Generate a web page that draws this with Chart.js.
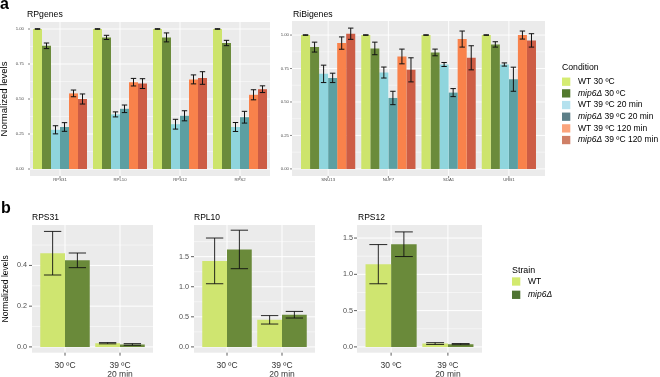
<!DOCTYPE html>
<html>
<head>
<meta charset="utf-8">
<script src="https://cdn.jsdelivr.net/npm/chart.js@4.4.1/dist/chart.umd.min.js"></script>
<style>
  html, body { margin: 0; padding: 0; background: #fff; }
  #wrap { position: relative; width: 660px; height: 377px; overflow: hidden; }
  #wrap canvas { position: absolute; left: 0; top: 0; }
</style>
</head>
<body>
<div id="wrap">
  <canvas id="chartRP" width="660" height="377"></canvas>
  <canvas id="chartRiBi" width="660" height="377"></canvas>
  <canvas id="chartRPS31" width="660" height="377"></canvas>
  <canvas id="chartRPL10" width="660" height="377"></canvas>
  <canvas id="chartRPS12" width="660" height="377"></canvas>
</div>
<script>
// ---- data, panel a ----
const rpGenes = ['RPS31', 'RPL10', 'RPS12', 'RPS2'];
const ribiGenes = ['SNU13', 'NUP7', 'SDA1', 'URB1'];
const conditions = ['WT 30 ºC', 'mip6Δ 30 ºC', 'WT 39 ºC 20 min', 'mip6Δ 39 ºC 20 min', 'WT 39 ºC 120 min', 'mip6Δ 39 ºC 120 min'];

// one row per condition, one value per gene
const rpMeans = [
  [1.00, 1.00, 1.00, 1.00],
  [0.88, 0.94, 0.94, 0.90],
  [0.28, 0.39, 0.32, 0.30],
  [0.30, 0.43, 0.38, 0.37],
  [0.54, 0.62, 0.64, 0.53],
  [0.50, 0.61, 0.65, 0.57]
];
const rpErrors = [
  [0.002, 0.002, 0.002, 0.002],
  [0.020, 0.015, 0.032, 0.019],
  [0.029, 0.018, 0.035, 0.032],
  [0.031, 0.027, 0.036, 0.042],
  [0.024, 0.027, 0.032, 0.036],
  [0.036, 0.035, 0.045, 0.024]
];
const ribiMeans = [
  [1.00, 1.00, 1.00, 1.00],
  [0.91, 0.90, 0.87, 0.93],
  [0.71, 0.72, 0.78, 0.78],
  [0.68, 0.53, 0.57, 0.67],
  [0.94, 0.84, 0.97, 1.00],
  [1.01, 0.74, 0.83, 0.96]
];
const ribiErrors = [
  [0.002, 0.002, 0.002, 0.002],
  [0.037, 0.047, 0.025, 0.020],
  [0.065, 0.041, 0.015, 0.012],
  [0.035, 0.050, 0.030, 0.090],
  [0.046, 0.055, 0.060, 0.030],
  [0.042, 0.090, 0.090, 0.050]
];
const aTicks = [0, 0.25, 0.5, 0.75, 1];
const aTickLabels = ['0.00', '0.25', '0.50', '0.75', '1.00'];

// ---- data, panel b ----
const strains = ['WT', 'mip6Δ'];
const timepoints = ['30 ºC', ['39 ºC', '20 min']];
const rps31Means = [[0.46, 0.018], [0.425, 0.012]];
const rps31Errors = [[0.107, 0.003], [0.036, 0.004]];
const rpl10Means = [[1.43, 0.45], [1.62, 0.535]];
const rpl10Errors = [[0.38, 0.07], [0.32, 0.055]];
const rps12Means = [[1.14, 0.046], [1.415, 0.038]];
const rps12Errors = [[0.27, 0.012], [0.17, 0.008]];
const rps31Ticks = [0, 0.2, 0.4];
const rps31TickLabels = ['0.0', '0.2', '0.4'];
const bigTicks = [0, 0.5, 1, 1.5];
const bigTickLabels = ['0.0', '0.5', '1.0', '1.5'];

// colours
const conditionColors = ['#cde46c', '#6b8b3b', '#8fd5dd', '#5c9fa2', '#f9824b', '#cd5d45'];
const conditionKeyColors = ['#d5ec72', '#537a2e', '#b4e1ee', '#5d7f88', '#fba47c', '#cf7f66'];
const strainColors = ['#cfe570', '#6a8a3a'];
const strainKeyColors = ['#d3ea6e', '#4f7432'];

const FAMILY = "'Liberation Sans', Arial, Helvetica, sans-serif";
const font = (size, style = 'normal', weight = 'normal') => `${style} ${weight} ${size}px ${FAMILY}`;

Chart.defaults.font.family = FAMILY;

const ggPanel = {
  id: 'ggPanel',
  beforeDatasetsDraw(chart, args, o) {
    const { ctx, chartArea: a, scales: { x, y } } = chart;
    const L = a.left - o.ext, R = a.right + o.ext;
    ctx.save();
    ctx.fillStyle = '#ebebeb';
    ctx.fillRect(L, a.top, R - L, a.bottom - a.top);
    ctx.strokeStyle = '#ffffff';
    const hline = v => {
      const py = y.getPixelForValue(v);
      ctx.beginPath(); ctx.moveTo(L, py); ctx.lineTo(R, py); ctx.stroke();
    };
    const t = o.yTicks, step = t[1] - t[0];
    ctx.lineWidth = o.minorW;
    for (let v = t[0] - step / 2; v <= y.max; v += step) {
      if (v >= y.min) hline(v);
    }
    ctx.lineWidth = o.majorW;
    t.forEach(hline);
    x.ticks.forEach((_, i) => {
      const px = x.getPixelForTick(i);
      ctx.beginPath(); ctx.moveTo(px, a.top); ctx.lineTo(px, a.bottom); ctx.stroke();
    });
    ctx.restore();
  },
  afterDatasetsDraw(chart, args, o) {
    const { ctx, scales: { y } } = chart;
    ctx.save();
    ctx.strokeStyle = '#111';
    ctx.lineWidth = o.errW;
    chart.data.datasets.forEach((ds, di) => {
      chart.getDatasetMeta(di).data.forEach((bar, i) => {
        const v = ds.data[i], e = ds.errors[i];
        const hw = bar.width * o.whisker / 2;
        const top = y.getPixelForValue(v + e), bot = y.getPixelForValue(v - e);
        ctx.beginPath();
        ctx.moveTo(bar.x, top); ctx.lineTo(bar.x, bot);
        ctx.moveTo(bar.x - hw, top); ctx.lineTo(bar.x + hw, top);
        ctx.moveTo(bar.x - hw, bot); ctx.lineTo(bar.x + hw, bot);
        ctx.stroke();
      });
    });
    ctx.restore();
  },
  afterDraw(chart, args, o) {
    const { ctx, chartArea: a, scales: { x, y } } = chart;
    const L = a.left - o.ext;
    ctx.save();
    // tick marks
    ctx.strokeStyle = '#333';
    ctx.lineWidth = o.tickW;
    o.yTicks.forEach(v => {
      const py = y.getPixelForValue(v);
      ctx.beginPath(); ctx.moveTo(L - o.tickLen, py); ctx.lineTo(L, py); ctx.stroke();
    });
    x.ticks.forEach((_, i) => {
      const px = x.getPixelForTick(i);
      ctx.beginPath(); ctx.moveTo(px, a.bottom); ctx.lineTo(px, a.bottom + o.tickLen); ctx.stroke();
    });
    // panel title
    ctx.fillStyle = '#000';
    ctx.textBaseline = 'alphabetic';
    ctx.font = font(o.titleSize);
    ctx.fillText(o.title, o.titleX, o.titleY);
    // figure letter
    if (o.letter) {
      ctx.font = font(o.letter.size, 'normal', 'bold');
      ctx.fillText(o.letter.text, o.letter.x, o.letter.y);
    }
    // legend
    const lg = o.legend;
    if (lg) {
      ctx.font = font(lg.titleSize);
      ctx.fillText(lg.title, lg.x, lg.titleY);
      ctx.textBaseline = 'middle';
      chart.data.datasets.forEach((ds, i) => {
        const cy = lg.y0 + i * lg.dy;
        ctx.fillStyle = lg.colors[i];
        ctx.fillRect(lg.x, cy - lg.key / 2, lg.key, lg.key);
        ctx.fillStyle = '#000';
        let tx = lg.textX;
        const m = ds.label.match(/^(mip6Δ)(.*)$/);
        if (m) {
          ctx.font = font(lg.size, 'italic');
          ctx.fillText(m[1], tx, cy);
          tx += ctx.measureText(m[1]).width;
          ctx.font = font(lg.size);
          ctx.fillText(m[2], tx, cy);
        } else {
          ctx.font = font(lg.size);
          ctx.fillText(ds.label, tx, cy);
        }
      });
    }
    ctx.restore();
  }
};
Chart.register(ggPanel);

function ggBar(id, p) {
  return new Chart(document.getElementById(id), {
    type: 'bar',
    data: {
      labels: p.labels,
      datasets: p.means.map((d, i) => ({
        label: p.names[i],
        data: d,
        errors: p.errors[i],
        backgroundColor: p.colors[i],
        borderWidth: 0,
        categoryPercentage: 0.9,
        barPercentage: 1
      }))
    },
    options: {
      responsive: false,
      animation: false,
      events: [],
      layout: {
        padding: { left: 0, top: p.area.top, right: 660 - p.area.right, bottom: 377 - p.area.bottom - p.xh }
      },
      scales: {
        x: {
          grid: { display: false, drawTicks: false },
          border: { display: false },
          ticks: { padding: p.xPad, color: p.xColor, font: { size: p.xSize, lineHeight: 1 }, maxRotation: 0, autoSkip: false },
          afterFit: s => { s.height = p.xh; }
        },
        y: {
          min: p.yMin,
          max: p.yMax,
          grid: { display: false, drawTicks: false },
          border: { display: false },
          ticks: {
            padding: p.yPad, color: '#4d4d4d', font: { size: p.ySize },
            callback: (v, i) => p.tickLabels[i]
          },
          afterBuildTicks: s => { s.ticks = p.yTicks.map(v => ({ value: v })); },
          afterFit: s => { s.width = p.area.left; },
          title: {
            display: !!p.yTitle,
            text: 'Normalized levels',
            color: '#000',
            font: { size: p.yTitleSize, lineHeight: 1 },
            padding: { top: p.yTitlePad, bottom: 0 }
          }
        }
      },
      plugins: {
        legend: { display: false },
        tooltip: { enabled: false },
        ggPanel: {
          ext: p.ext, yTicks: p.yTicks, majorW: p.majorW, minorW: p.minorW,
          errW: p.errW, whisker: p.whisker, tickLen: p.tickLen, tickW: p.tickW,
          title: p.title, titleX: p.titleX, titleY: p.titleY, titleSize: p.titleSize,
          letter: p.letter, legend: p.legend
        }
      }
    }
  });
}

const topCommon = {
  names: conditions, colors: conditionColors, yTicks: aTicks, tickLabels: aTickLabels,
  xh: 10, xPad: 2, xSize: 4.3, xColor: '#4d4d4d', ySize: 4.3,
  majorW: 0.9, minorW: 0.45, errW: 1, whisker: 0.6, tickLen: 2, tickW: 0.6,
  titleSize: 8.7, titleY: 16.5, yTitleSize: 9.5, yTitlePad: 0
};

ggBar('chartRP', Object.assign({}, topCommon, {
  labels: rpGenes, means: rpMeans, errors: rpErrors,
  area: { left: 30, right: 270, top: 22, bottom: 176 }, ext: 0,
  yMin: -0.05, yMax: 1.05, yPad: 6,
  title: 'RPgenes', titleX: 27, yTitle: true,
  letter: { text: 'a', x: 0, y: 8.5, size: 16 }
}));

ggBar('chartRiBi', Object.assign({}, topCommon, {
  labels: ribiGenes, means: ribiMeans, errors: ribiErrors,
  area: { left: 298, right: 539, top: 21, bottom: 176 }, ext: 6,
  yMin: -0.053, yMax: 1.105, yPad: 9,
  title: 'RiBigenes', titleX: 293, yTitle: false,
  legend: { title: 'Condition', x: 562, titleY: 70, y0: 81.7, dy: 11.67, key: 8.3, textX: 578, size: 8.5, titleSize: 8.7, colors: conditionKeyColors }
}));

const botCommon = {
  labels: timepoints, names: strains, colors: strainColors,
  xh: 24, xPad: 9, xSize: 8.5, xColor: '#333', ySize: 7.2,
  majorW: 1, minorW: 0.5, errW: 0.9, whisker: 0.7, tickLen: 3, tickW: 0.8,
  titleSize: 8.5, titleY: 220, yTitleSize: 8.5, yTitlePad: 1.75, ext: 5.5
};

ggBar('chartRPS31', Object.assign({}, botCommon, {
  means: rps31Means, errors: rps31Errors,
  area: { left: 37.5, right: 147.5, top: 225, bottom: 352.7 },
  yMin: -0.0285, yMax: 0.5985, yTicks: rps31Ticks, tickLabels: rps31TickLabels, yPad: 10.5,
  title: 'RPS31', titleX: 32, yTitle: true,
  letter: { text: 'b', x: 1, y: 212.5, size: 16 }
}));

ggBar('chartRPL10', Object.assign({}, botCommon, {
  means: rpl10Means, errors: rpl10Errors,
  area: { left: 199.5, right: 309.5, top: 225, bottom: 352.7 },
  yMin: -0.0965, yMax: 2.0265, yTicks: bigTicks, tickLabels: bigTickLabels, yPad: 10.5,
  title: 'RPL10', titleX: 194, yTitle: false
}));

ggBar('chartRPS12', Object.assign({}, botCommon, {
  means: rps12Means, errors: rps12Errors,
  area: { left: 362.7, right: 476.3, top: 225, bottom: 352.7 },
  yMin: -0.08, yMax: 1.68, yTicks: bigTicks, tickLabels: bigTickLabels, yPad: 9.7, ext: 5.7,
  title: 'RPS12', titleX: 358, yTitle: false,
  legend: { title: 'Strain', x: 512, titleY: 273.3, y0: 281.5, dy: 13.3, key: 8.3, textX: 528, size: 8.5, titleSize: 8.9, colors: strainKeyColors }
}));
</script>
</body>
</html>
